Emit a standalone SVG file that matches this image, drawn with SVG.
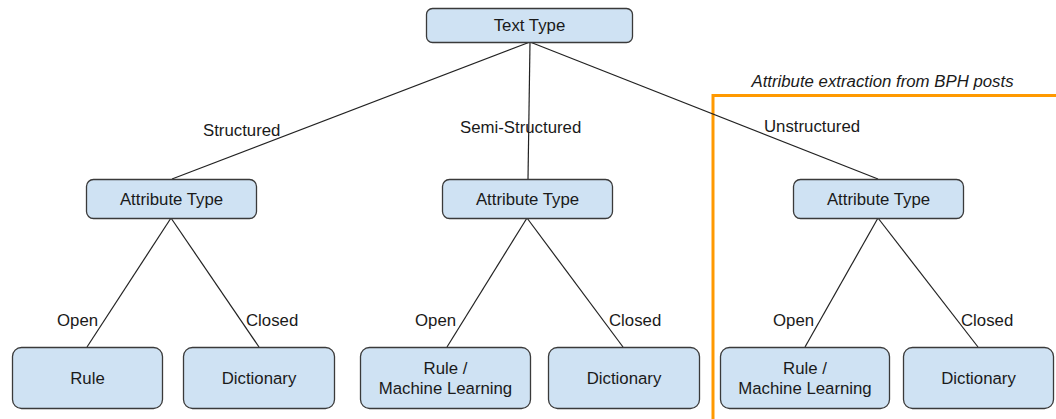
<svg xmlns="http://www.w3.org/2000/svg" width="1056" height="419" viewBox="0 0 1056 419">
  <style>
    .box { fill: #cfe2f3; stroke: #3a3a3a; stroke-width: 1.3; }
    .t { font-family: "Liberation Sans", Arial, sans-serif; font-size: 16.8px; fill: #1a1a1a; text-anchor: middle; }
    .lbl { font-family: "Liberation Sans", Arial, sans-serif; font-size: 16.8px; fill: #1a1a1a; }
    .edge { stroke: #222; stroke-width: 1.2; fill: none; }
  </style>
  <rect width="1056" height="419" fill="#ffffff"/>

  <!-- highlighted region -->
  <g id="region">
    <path d="M713,419 V95.5 H1056" fill="none" stroke="#ff9900" stroke-width="3"/>
    <text x="882.5" y="87" class="t" font-style="italic" font-size="17px">Attribute extraction from BPH posts</text>
  </g>

  <!-- connectors -->
  <g id="connectors">
    <line class="edge" x1="530" y1="42" x2="172" y2="179"/>
    <line class="edge" x1="530" y1="42" x2="528" y2="179"/>
    <line class="edge" x1="530" y1="42" x2="878" y2="179"/>
    <line class="edge" x1="171" y1="218" x2="87" y2="347"/>
    <line class="edge" x1="171" y1="218" x2="259" y2="347"/>
    <line class="edge" x1="527" y1="218" x2="447" y2="347"/>
    <line class="edge" x1="527" y1="218" x2="623" y2="347"/>
    <line class="edge" x1="878" y1="218" x2="805" y2="347"/>
    <line class="edge" x1="878" y1="218" x2="978" y2="347"/>
    <text class="lbl" x="203" y="136">Structured</text>
    <text class="lbl" x="460" y="133">Semi-Structured</text>
    <text class="lbl" x="764" y="132">Unstructured</text>
    <text class="lbl" x="57" y="326">Open</text>
    <text class="lbl" x="246" y="326">Closed</text>
    <text class="lbl" x="415" y="326">Open</text>
    <text class="lbl" x="609" y="326">Closed</text>
    <text class="lbl" x="773" y="326">Open</text>
    <text class="lbl" x="961" y="326">Closed</text>
  </g>

  <g id="text-type">
    <rect class="box" x="426.5" y="8.5" width="206" height="34" rx="6"/>
    <text class="t" x="529.5" y="31">Text Type</text>
  </g>

  <g id="attr-structured">
    <rect class="box" x="86.5" y="179.5" width="170" height="39" rx="7"/>
    <text class="t" x="171.5" y="205">Attribute Type</text>
  </g>
  <g id="attr-semi">
    <rect class="box" x="442.5" y="179.5" width="170" height="39" rx="7"/>
    <text class="t" x="527.5" y="205">Attribute Type</text>
  </g>
  <g id="attr-unstructured">
    <rect class="box" x="793.5" y="179.5" width="170" height="39" rx="7"/>
    <text class="t" x="878.5" y="205">Attribute Type</text>
  </g>

  <g id="leaf-rule">
    <rect class="box" x="12.5" y="347.5" width="150" height="61" rx="9"/>
    <text class="t" x="87.5" y="384">Rule</text>
  </g>
  <g id="leaf-dict-1">
    <rect class="box" x="183.5" y="347.5" width="151" height="61" rx="9"/>
    <text class="t" x="259" y="384">Dictionary</text>
  </g>
  <g id="leaf-ml-1">
    <rect class="box" x="360.5" y="347.5" width="170" height="61" rx="9"/>
    <text class="t" x="445.5" y="374">Rule /</text>
    <text class="t" x="445.5" y="394">Machine Learning</text>
  </g>
  <g id="leaf-dict-2">
    <rect class="box" x="548.5" y="347.5" width="151" height="61" rx="9"/>
    <text class="t" x="624" y="384">Dictionary</text>
  </g>
  <g id="leaf-ml-2">
    <rect class="box" x="720.5" y="347.5" width="169" height="61" rx="9"/>
    <text class="t" x="805" y="374">Rule /</text>
    <text class="t" x="805" y="394">Machine Learning</text>
  </g>
  <g id="leaf-dict-3">
    <rect class="box" x="903.5" y="347.5" width="150" height="61" rx="9"/>
    <text class="t" x="978.5" y="384">Dictionary</text>
  </g>
</svg>
